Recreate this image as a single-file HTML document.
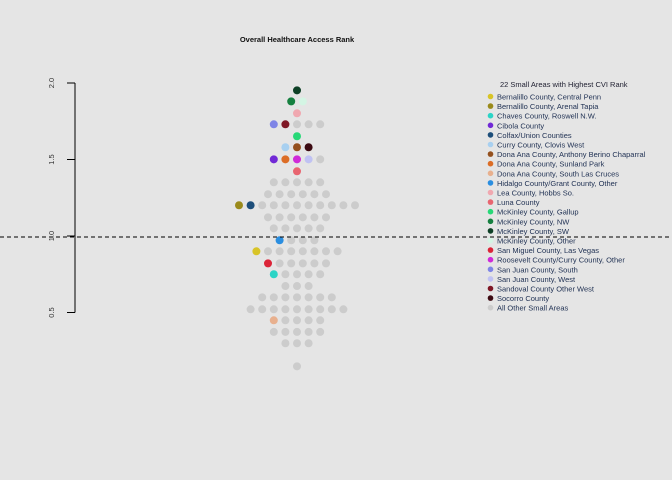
<!DOCTYPE html>
<html><head><meta charset="utf-8"><style>
body{margin:0;background:#e5e5e5;}
svg{display:block;font-family:"Liberation Sans",Arial,sans-serif;}
</style></head><body>
<svg id="chart" width="672" height="480" viewBox="0 0 672 480">
<rect width="672" height="480" fill="#e5e5e5"/>
<text x="297" y="42" text-anchor="middle" font-size="7.5" font-weight="bold" fill="#111">Overall Healthcare Access Rank</text>
<g id="yaxis"></g>
<g id="dots"></g>
<g id="legend"></g>
</svg>
<script>
const yTicks = [0.5, 1.0, 1.5, 2.0];
const yTickLabels = ["0.5", "1.0", "1.5", "2.0"];
const refValue = 1.0;
const rowValues = [1.952,1.880,1.802,1.730,1.652,1.580,1.501,1.423,1.351,1.273,1.201,1.122,1.050,0.972,0.900,0.821,0.750,0.673,0.599,0.521,0.449,0.373,0.299,0.148];
const G='all-other';
const rowGroups = [
 ["mk-sw"],
 ["mk-nw","mk-other"],
 ["lea"],
 ["sj-south","sandoval",G,G,G],
 ["mk-gallup"],
 ["curry","da-anthony","socorro"],
 ["cibola","da-sunland","roosevelt","sj-west",G],
 ["luna"],
 [G,G,G,G,G],
 [G,G,G,G,G,G],
 ["bern-arenal","colfax",G,G,G,G,G,G,G,G,G],
 [G,G,G,G,G,G],
 [G,G,G,G,G],
 ["hidalgo",G,G,G],
 ["bern-central",G,G,G,G,G,G,G],
 ["san-miguel",G,G,G,G,G],
 ["chaves",G,G,G,G],
 [G,G,G],
 [G,G,G,G,G,G,G],
 [G,G,G,G,G,G,G,G,G],
 ["da-slc",G,G,G,G],
 [G,G,G,G,G],
 [G,G,G],
 [G]
];
const legendKeys = ["bern-central","bern-arenal","chaves","cibola","colfax","curry","da-anthony","da-sunland","da-slc","hidalgo","lea","luna","mk-gallup","mk-nw","mk-sw","mk-other","san-miguel","roosevelt","sj-south","sj-west","sandoval","socorro",G];
const legendLabels = ["Bernalillo County, Central Penn","Bernalillo County, Arenal Tapia","Chaves County, Roswell N.W.","Cibola County","Colfax/Union Counties","Curry County, Clovis West","Dona Ana County, Anthony Berino Chaparral","Dona Ana County, Sunland Park","Dona Ana County, South Las Cruces","Hidalgo County/Grant County, Other","Lea County, Hobbs So.","Luna County","McKinley County, Gallup","McKinley County, NW","McKinley County, SW","McKinley County, Other","San Miguel County, Las Vegas","Roosevelt County/Curry County, Other","San Juan County, South","San Juan County, West","Sandoval County Other West","Socorro County","All Other Small Areas"];
const legendColors = ["#d8c427","#9a8a1b","#2bd4c6","#7129d6","#1d4e7a","#a8d0f0","#94501e","#dc6d26","#e8b08e","#2a8ee0","#f0a8b0","#e86570","#27d877","#168040","#0e4026","#d4f5e4","#db2438","#cf2ad8","#7f85e6","#c0c2f3","#7f1725","#3c0a12","#cccccc"];

const NS="http://www.w3.org/2000/svg";
const yScale = v => 236 - (v - 1) * 153;
const cx0 = 297, dx = 11.6;
function mk(tag, attrs, parent){const e=document.createElementNS(NS,tag);for(const k in attrs)e.setAttribute(k,attrs[k]);parent.appendChild(e);return e;}
const colorOf = k => legendColors[legendKeys.indexOf(k)];

const yaxis=document.getElementById('yaxis');
let l=mk('line',{x1:75,x2:75,y1:yScale(yTicks[yTicks.length-1]),y2:yScale(yTicks[0]),stroke:'#000','stroke-width':1},yaxis);


yTicks.forEach((t,i)=>{
  const tk=mk('line',{x1:67,x2:75,y1:yScale(t),y2:yScale(t),stroke:'#000','stroke-width':1},yaxis);
  
  
  const tx=mk('text',{x:0,y:0,transform:`translate(54,${yScale(t)}) rotate(-90)`,'text-anchor':'middle','font-size':7.5,fill:'#333'},yaxis);
  tx.textContent=yTickLabels[i];
  
  
});

const dots=document.getElementById('dots');
rowValues.forEach((v,r)=>{
  const g=rowGroups[r]; const n=g.length;
  g.forEach((k,j)=>{
    const c=mk('circle',{cx:cx0+(j-(n-1)/2)*dx,cy:yScale(v),r:4,fill:colorOf(k)},dots);
    
    
  });
});
const ref=mk('line',{x1:0,x2:672,y1:yScale(refValue)+1,y2:yScale(refValue)+1,stroke:'#000','stroke-width':1,'stroke-dasharray':'4,3'},dots);



const lg=document.getElementById('legend');
const tt=mk('text',{x:500,y:87,'font-size':7.5,fill:'#223'},lg);
tt.textContent='22 Small Areas with Highest CVI Rank';


legendLabels.forEach((lab,i)=>{
  const y=97+i*9.6;
  const c=mk('circle',{cx:490.5,cy:y-0.5,r:2.8,fill:legendColors[i]},lg);
  
  
  const t=mk('text',{x:497,y:y+2.5,'font-size':7.5,fill:'#223355'},lg);
  t.textContent=lab;
  
  
});
</script>
</body></html>
